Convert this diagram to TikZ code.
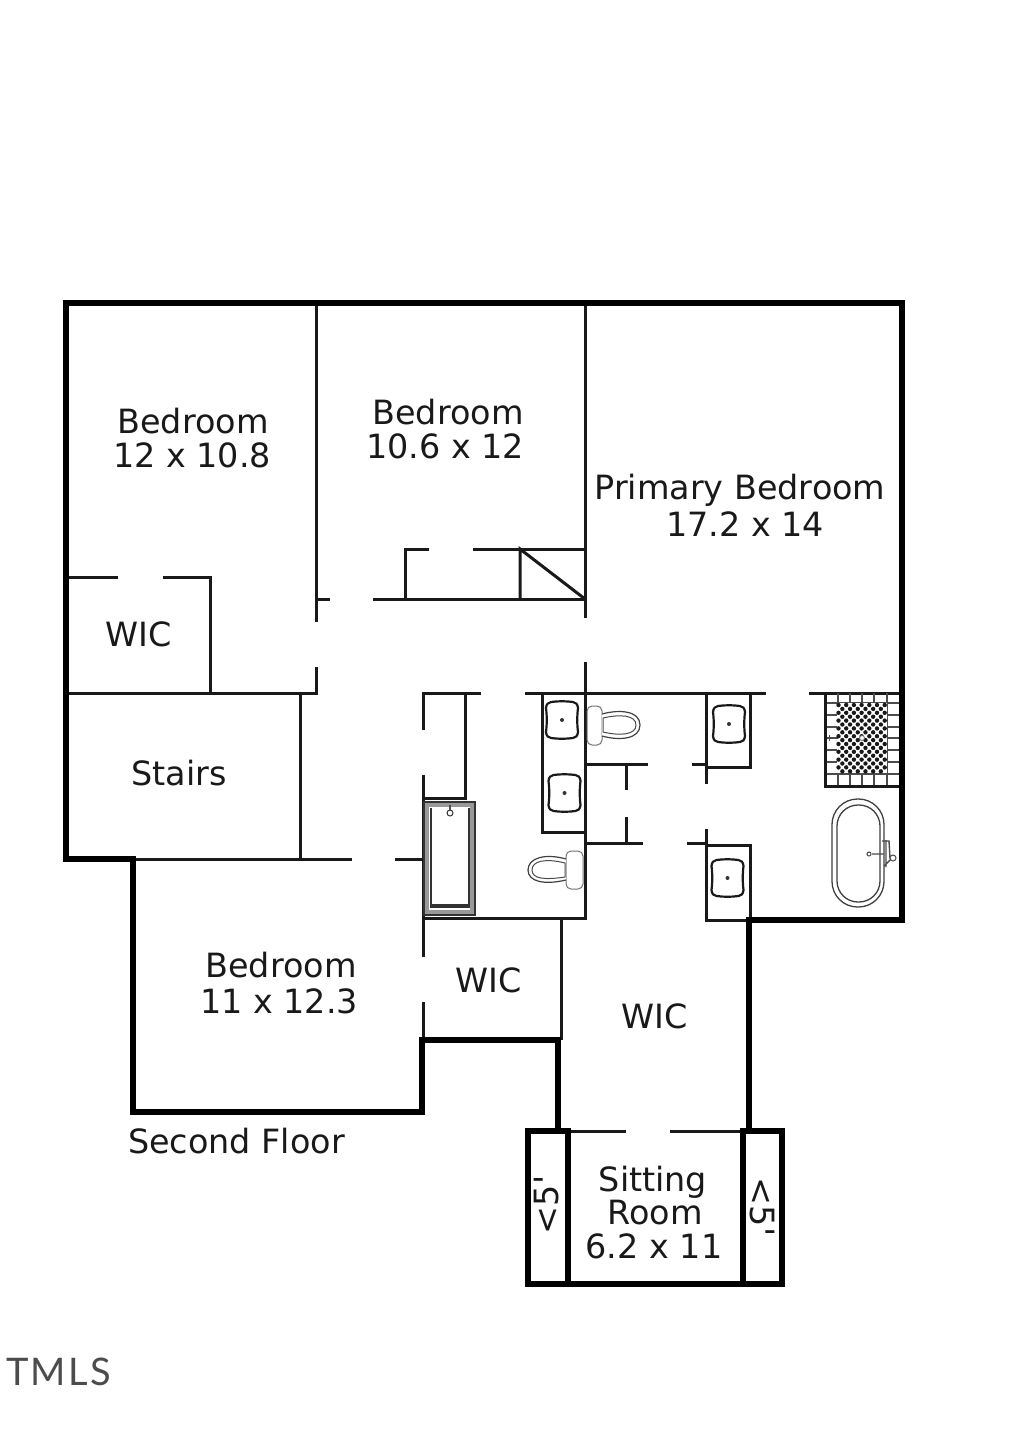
\documentclass[tikz,border=0pt]{standalone}
\usepackage{fontspec}
\setmainfont{DejaVu Sans}
\newfontfamily\plainface{DejaVu Sans}
\newfontfamily\mlsfont{Lato}[LetterSpace=6]
\begin{document}
\begin{tikzpicture}[x=1pt,y=-1pt,
  thick wall/.style={line width=6pt,black,line cap=rect,line join=miter},
  thin wall/.style={line width=3pt,black!90,line cap=butt,line join=miter},
  fixture/.style={line width=1.2pt,black!75,fill=white},
  label/.style={font=\fontsize{33.4}{33.4}\selectfont,anchor=base,text=black!90,inner sep=0pt},
  basin/.pic={
    \draw[line width=2.2pt,black!90] (-11,-18) .. controls (-4,-19) and (4,-19) .. (11,-18)
      .. controls (14,-17.5) and (15.5,-16) .. (16,-12) .. controls (15,-4) and (15,4) .. (16,12)
      .. controls (15.5,16) and (14,17.5) .. (11,18) .. controls (4,19) and (-4,19) .. (-11,18)
      .. controls (-14,17.5) and (-15.5,16) .. (-16,12) .. controls (-15,4) and (-15,-4) .. (-16,-12)
      .. controls (-15.5,-16) and (-14,-17.5) .. cycle;
    \fill[black!80] (0,0) circle (2pt);
  },
]
\useasboundingbox (0,0) rectangle (1024,1437);
\fill[white] (0,0) rectangle (1024,1437);
% thin partitions
\draw[thin wall] (316,303)--(316,622) (316,667)--(316,693)--(66,693);
\draw[thin wall] (316,599)--(330,599) (373,599)--(585,599);
\draw[thin wall] (405,599)--(405,549)--(429,549) (473,549)--(585,549);
\draw[thin wall] (520,599)--(520,549)--(585,599);
\draw[thin wall] (585,303)--(585,618) (585,662)--(585,918)--(423,918);
\draw[thin wall] (66,577)--(118,577) (163,577)--(210,577)--(210,693);
\draw[thin wall] (300,693)--(300,859) (133,859)--(352,859) (395,859)--(423,859);
\draw[thin wall] (481,693)--(423,693)--(423,730) (423,775)--(423,957) (423,1002)--(423,1040);
\draw[thin wall] (465,693)--(465,798)--(423,798);
\draw[thin wall] (525,693)--(766,693) (809,693)--(899,693);
\draw[thin wall] (561,918)--(561,1040);
\draw[thin wall] (542,693)--(542,832)--(585,832);
\draw[thin wall] (585,764)--(648,764) (626,764)--(626,790);
\draw[thin wall] (585,843)--(643,843) (626,817)--(626,843);
\draw[thin wall] (706,693)--(706,784) (750,693)--(750,767)--(706,767) (692,764)--(706,764);
\draw[thin wall] (687,843)--(706,843) (706,829)--(706,920)--(750,920)--(750,845)--(706,845);
\draw[thin wall] (568,1131)--(626,1131) (670,1131)--(743,1131);
% shower
\draw[line width=1.3pt,black!70] (838,693)--(838,786) (850,693)--(850,786) (862,693)--(862,786) (874,693)--(874,786) (887,693)--(887,786)
  (825,703)--(899,703) (825,715)--(899,715) (825,727)--(899,727) (825,738)--(899,738) (825,750)--(899,750) (825,762)--(899,762) (825,774)--(899,774);
\fill[white] (837,703) rectangle (887,773);
\foreach \i in {0,...,12}{\foreach \j in {0,...,17}{
  \pgfmathtruncatemacro{\k}{mod(\i+\j,2)}
  \ifnum\k=0 \fill[black!90] ({838.5+\i*3.85},{705+\j*3.9}) circle (2.2pt);\fi
}}
\draw[thin wall] (825,693)--(825,786)--(899,786);
\draw[line width=1pt,black!70] (829,738)--(838,738) (829,735)--(829,741);
\draw[line width=.8pt,black!60,fill=white] (862,738) circle (2.5pt);
% tubs
\draw[line width=1.3pt,black!75,rounded corners=25.5pt] (832,799) rectangle (884,907);
\draw[line width=1.3pt,black!75,rounded corners=21pt] (837,805) rectangle (880,902);
\draw[line width=1.4pt,black!70] (872,854)--(884,854) (886,840)--(886,867) (882,841)--(889,841)--(890,858)--(896,858) (884,866)--(892,858);
\draw[line width=1pt,black!70,fill=white] (869,854) circle (2pt) (893,858) circle (3pt);
\draw[line width=2pt,black!80] (424,802) rectangle (475,915);
\draw[line width=3.5pt,black!40] (427,805) rectangle (472,912);
\draw[line width=1.2pt,black!80] (431,808)--(431,907)--(469,907)--(469,808) (430,905)--(469,905);
\draw[line width=1pt,black!80,fill=white] (450,813) circle (3pt);
\draw[line width=1.5pt,black!70] (450,805)--(450,810);
% sinks
\pic at (562,720) {basin};
\pic at (564.5,793) {basin};
\pic at (729,724) {basin};
\pic at (727.5,878) {basin};
% toilets
\draw[line width=1pt,black!55,rounded corners=5pt] (587,706) rectangle (602,745);
\draw[fixture] (602,714) .. controls (620,709) and (640,711) .. (640,725) .. controls (640,739) and (620,741) .. (602,736);
\draw[line width=1pt,black!70] (603,718) .. controls (620,714) and (636,715) .. (636,725) .. controls (636,735) and (620,736) .. (603,732)--cycle;
\draw[line width=1pt,black!55,rounded corners=5pt] (566,851) rectangle (583,889);
\draw[fixture] (566,859) .. controls (545,853) and (528,858) .. (528,870) .. controls (528,882) and (545,885) .. (566,880);
\draw[line width=1pt,black!70] (565,863) .. controls (545,858) and (532,861) .. (532,870) .. controls (532,879) and (545,880) .. (565,877)--cycle;
% thick outer walls
\draw[thick wall] (66,303)--(902,303)--(902,920)--(749,920)--(749,1131);
\draw[thick wall] (66,303)--(66,859)--(133,859)--(133,1112)--(422,1112)--(422,1040)--(558,1040)--(558,1131);
\draw[thick wall] (568,1131)--(528,1131)--(528,1284)--(782,1284)--(782,1131)--(743,1131);
\draw[thick wall] (568,1131)--(568,1284) (743,1131)--(743,1284);
% labels
\node[label] (bed1a) at (193,433) {Bedroom};
\node[label] (bed1b) at (192,467) {12 x 10.8};
\node[label] (bed2a) at (448,424) {Bedroom};
\node[label] (bed2b) at (445,458) {10.6 x 12};
\node[label] (prima) at (740,499) {Primary Bedroom};
\node[label] (primb) at (745,536) {17.2 x 14};
\node[label] (wic1) at (139,646) {WIC};
\node[label] (stairs) at (179,785) {Stairs};
\node[label] (bed3a) at (281,977) {Bedroom};
\node[label] (bed3b) at (279,1013) {11 x 12.3};
\node[label] (wic2) at (489,992) {WIC};
\node[label] (wic3) at (655,1028) {WIC};
\node[label,anchor=base west] (floor) at (128,1153) {Second Floor};
\node[label] (sita) at (653,1191) {Sitting};
\node[label] (sitb) at (655,1224) {Room};
\node[label] (sitc) at (654,1258) {6.2 x 11};
\node[label,rotate=90,anchor=center] (lt1) at (547,1205) {\plainface <5'};
\node[label,rotate=-90,anchor=center] (lt2) at (762,1207) {\plainface <5'};
\node[font=\mlsfont\fontsize{38}{38}\selectfont,anchor=base west,inner sep=0pt,text=black!70] (mls) at (6,1385) {TMLS};
\end{tikzpicture}
\end{document}
